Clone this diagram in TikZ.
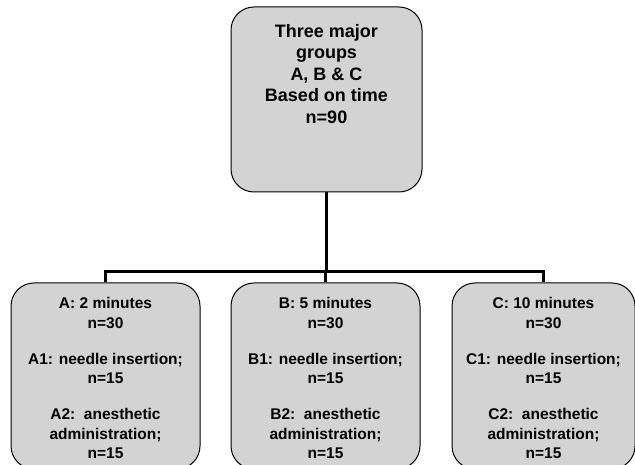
\documentclass[tikz,border=0pt]{standalone}
\usepackage{fontspec}
\setmainfont{Liberation Sans}
\begin{document}
\begin{tikzpicture}[x=1pt,y=1pt,
  box/.style={draw=black, line width=1pt, fill=boxgray, rounded corners=23pt, inner sep=0pt},
  txt/.style={anchor=north, align=center, inner sep=0pt, font=\fontsize{15.5}{19.5}\selectfont\bfseries},
  toptxt/.style={txt, font=\fontsize{18}{21.5}\selectfont\bfseries},
  conn/.style={line width=3pt}]
\definecolor{boxgray}{RGB}{211,211,211}
\useasboundingbox (0,0) rectangle (635,465);
\begin{scope}
\clip (0,0) rectangle (635,465);
% top box
\node[box, minimum width=191pt, minimum height=185pt] (top) at (326.5,365.5) {};
\node[toptxt] (ttxt) at (326.5,441) {Three major\\groups\\A, B \& C\\Based on time\\n=90};
% bottom boxes
\node[box, minimum width=189pt, minimum height=186pt] (A) at (105.5,89) {};
\node[box, minimum width=189pt, minimum height=186pt] (B) at (325.5,89) {};
\node[box, minimum width=183pt, minimum height=186pt] (C) at (543.5,89) {};
\end{scope}
\node[txt] (Atxt) at (105.5,167.5) {A: 2 minutes\\n=30\\[16.5pt]A1: needle insertion;\\n=15\\[16.5pt]A2:\ \ anesthetic\\administration;\\n=15};
\node[txt] (Btxt) at (325.5,167.5) {B: 5 minutes\\n=30\\[16.5pt]B1: needle insertion;\\n=15\\[16.5pt]B2:\ \ anesthetic\\administration;\\n=15};
\node[txt] (Ctxt) at (543.5,167.5) {C: 10 minutes\\n=30\\[16.5pt]C1: needle insertion;\\n=15\\[16.5pt]C2:\ \ anesthetic\\administration;\\n=15};
% connectors
\coordinate (bus) at (326.5,193);
\draw[conn] (top.south) -- (bus);
\draw[conn] (A.north) -- (A.north |- bus) -- (C.north |- bus) -- (C.north);
\draw[conn] (B.north) -- (B.north |- bus);
\end{tikzpicture}
\end{document}
